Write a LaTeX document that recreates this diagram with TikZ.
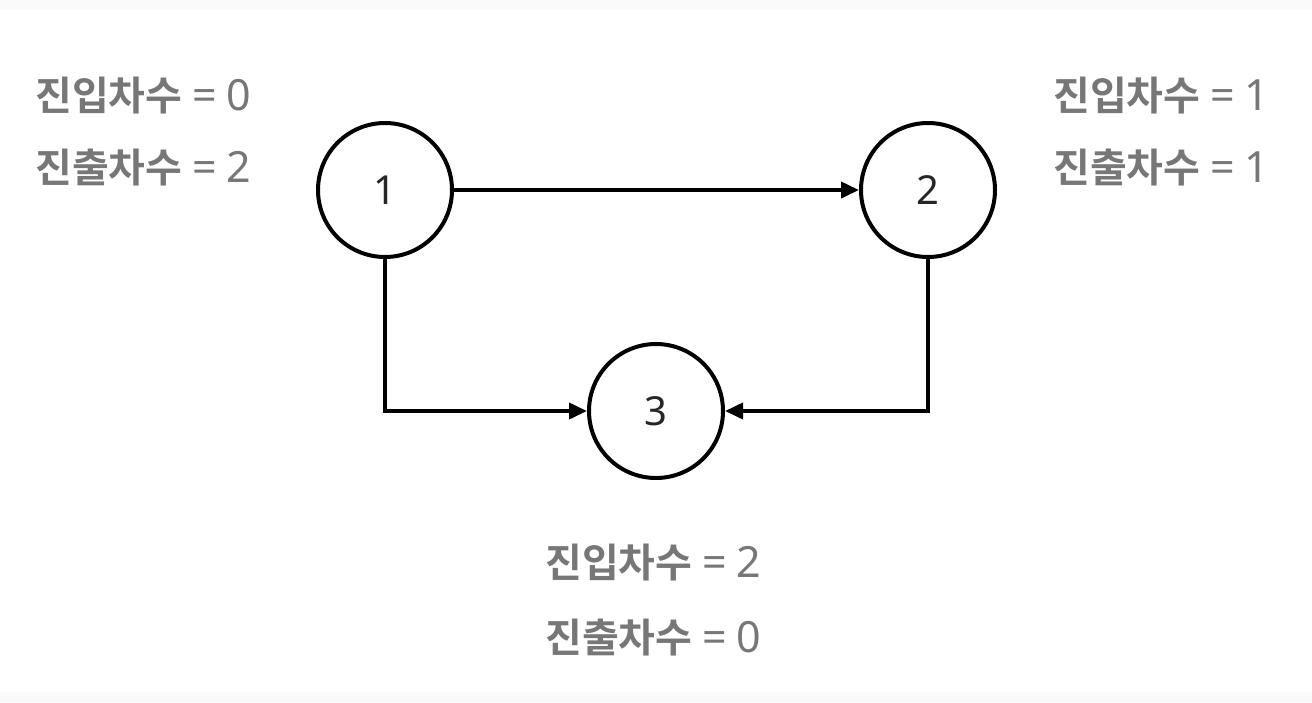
\documentclass[tikz,border=0pt]{standalone}
\usepackage{fontspec}
\setmainfont{Noto Sans}
\newfontfamily\kr{Noto Sans CJK KR}
\newfontfamily\krb{Noto Sans CJK KR Bold}
\usetikzlibrary{arrows.meta}
\definecolor{lbl}{HTML}{777777}
\newcommand{\degtext}[2]{{\krb #1}\hspace{10pt}{\fontsize{43}{48}\selectfont=\hspace{10pt}#2}}
\tikzset{
  vtx/.style={circle,draw=black,line width=4pt,minimum size=134pt,inner sep=0pt,font=\fontsize{40}{40}\selectfont,text=black!85},
  lab/.style={anchor=base west,text=lbl,inner sep=0pt,font=\fontsize{40}{48}\selectfont},
  edge/.style={line width=3.8pt,-{Triangle[length=18pt,width=16pt]}}
}
\begin{document}
\begin{tikzpicture}[x=1pt,y=-1pt]
\useasboundingbox (0,0) rectangle (1312,702);
\fill[white] (0,0) rectangle (1312,702);
\fill[black!2] (0,0) rectangle (1312,10);
\fill[black!2] (0,692) rectangle (1312,702);
\node[vtx] (n1) at (385,190) {1};
\node[vtx] (n2) at (928,190) {2};
\node[vtx] (n3) at (656,411) {3};
\draw[edge] (n1.east) -- (n2.west);
\draw[edge] (n1.south) |- (n3.west);
\draw[edge] (n2.south) |- (n3.east);
\node[lab] (l1a) at (35,110) {\degtext{진입차수}{0}};
\node[lab] (l1b) at (35,182) {\degtext{진출차수}{2}};
\node[lab] (l2a) at (1053,110) {\degtext{진입차수}{1}};
\node[lab] (l2b) at (1053,182) {\degtext{진출차수}{1}};
\node[lab] (l3a) at (545,577) {\degtext{진입차수}{2}};
\node[lab] (l3b) at (545,652) {\degtext{진출차수}{0}};
\end{tikzpicture}
\end{document}
